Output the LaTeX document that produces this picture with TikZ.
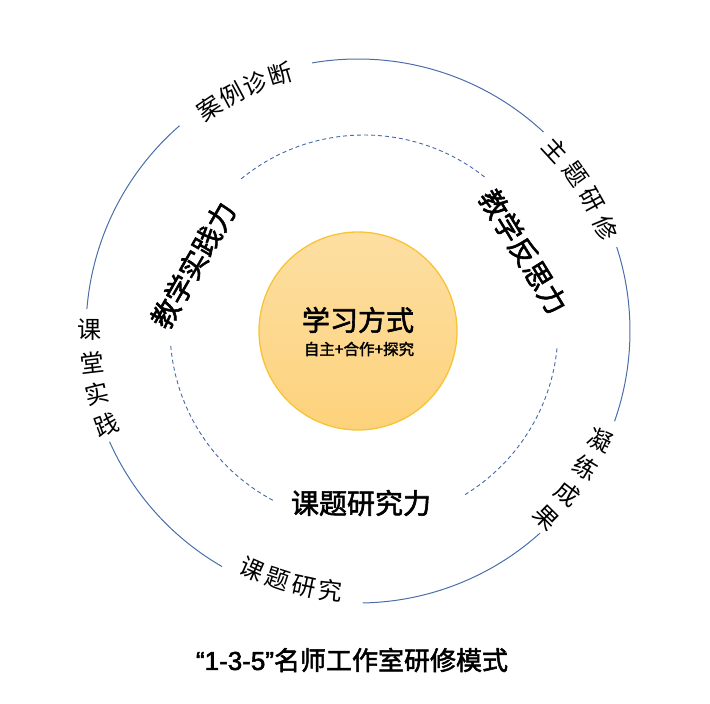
\documentclass[tikz,border=0pt]{standalone}
\usepackage{fontspec}
\setmainfont{Noto Sans CJK SC}
\newfontfamily\semibold[FakeBold=2]{Noto Sans CJK SC}
\newfontfamily\latinbold[FakeBold=2]{Liberation Sans}
\usetikzlibrary{calc}
\definecolor{ringblue}{HTML}{4A6EA9}
\definecolor{dashblue}{HTML}{4468A8}
\definecolor{coreedge}{HTML}{F7C437}
\definecolor{coretop}{HTML}{FDDFA2}
\definecolor{corebot}{HTML}{FDD27C}
\begin{document}
\begin{tikzpicture}[x=1pt,y=1pt,
  ring/.style={draw=ringblue,line width=1pt},
  dring/.style={draw=dashblue,line width=0.9pt,dash pattern=on 4pt off 3pt},
  outerlbl/.style={font=\fontsize{24}{24}\selectfont,inner sep=0pt},
  innerlbl/.style={font=\fontsize{28}{28}\selectfont\semibold,inner sep=0pt},
]
\useasboundingbox (0,0) rectangle (710,704);
\coordinate (C) at (358,373);
\coordinate (D) at (364,375);
% outer ring arcs
\draw[ring] ($(C)+(47:272)$) arc[start angle=47,end angle=99.7,radius=272];
\draw[ring] ($(C)+(131:272)$) arc[start angle=131,end angle=175.4,radius=272];
\draw[ring] ($(C)+(204:272)$) arc[start angle=204,end angle=240,radius=272];
\draw[ring] ($(C)+(271:272)$) arc[start angle=271,end angle=312,radius=272];
\draw[ring] ($(C)+(-19.4:272)$) arc[start angle=-19.4,end angle=18,radius=272];
% dashed ring arcs
\draw[dring] ($(D)+(51.6:194)$) arc[start angle=51.6,end angle=129.6,radius=194];
\draw[dring] ($(D)+(185:194)$) arc[start angle=185,end angle=242,radius=194];
\draw[dring] ($(D)+(301.4:194)$) arc[start angle=301.4,end angle=354.4,radius=194];
% core
\node[circle,minimum size=198,inner sep=0pt,draw=coreedge,line width=1.3pt,
  top color=coretop,bottom color=corebot] (core) at (C) {};
\node[font=\fontsize{28}{28}\selectfont\semibold,inner sep=0pt] (coretitle) at (358,384) {学习方式};
\node[font=\fontsize{15.5}{16}\selectfont\semibold,inner sep=0pt] (coresub) at (359,355) {自主+合作+探究};
% outer labels
\foreach \ch/\a [count=\i] in {案/123.8,例/118.2,诊/112.5,断/106.9}
  \node[outerlbl,rotate=\a-90] (anli\i) at ($(C)+(\a:268)$) {\ch};
\foreach \ch/\a [count=\i] in {主/42.6,题/35.9,研/29.2,修/22.5}
  \node[outerlbl,rotate=\a-90] (zhuti\i) at ($(C)+(\a:268)$) {\ch};
\foreach \ch/\a [count=\i] in {凝/-24.2,练/-31.0,成/-37.9,果/-44.7}
  \node[outerlbl,rotate=\a] (ninglian\i) at ($(C)+(\a:265)$) {\ch};
\foreach \ch/\a [count=\i] in {课/246.1,题/252.0,研/258.0,究/263.9}
  \node[outerlbl,rotate=\a+90] (keti\i) at ($(C)+(\a:261)$) {\ch};
\foreach \ch/\a [count=\i] in {课/179.8,堂/186.7,实/193.5,践/200.4}
  \node[outerlbl,rotate=\a+180] (ketang\i) at ($(C)+(\a:268)$) {\ch};
% inner labels
\node[innerlbl,rotate=60.3] (shijian) at (193,439) {教学实践力};
\node[innerlbl,rotate=-58.5] (fansi) at (523.5,452.5) {教学反思力};
\node[innerlbl] (yanjiu) at (361,201) {课题研究力};
% title
\node[font=\fontsize{26}{26}\selectfont\semibold,inner sep=0pt] (title) at (352,44)
  {{\latinbold “1-3-5”}名师工作室研修模式};
\end{tikzpicture}
\end{document}
